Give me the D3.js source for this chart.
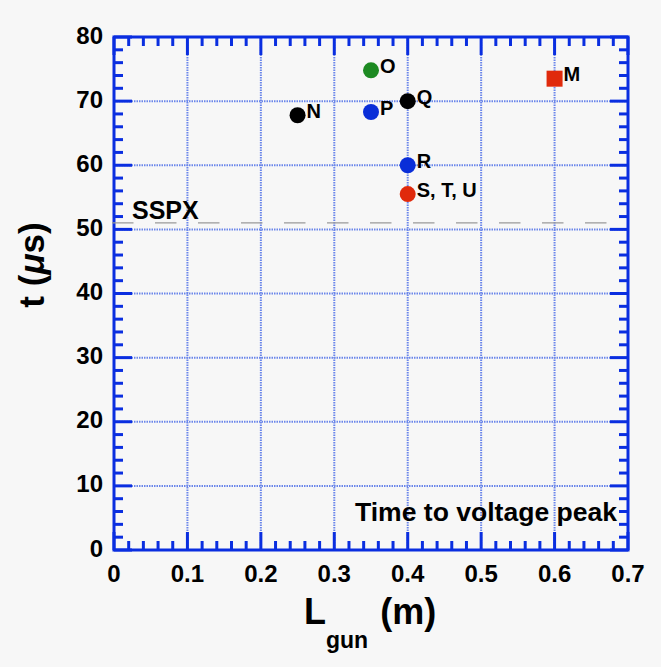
<!DOCTYPE html>
<html>
<head>
<meta charset="utf-8">
<script src="https://cdn.jsdelivr.net/npm/d3@7"></script>
<style>
  body { margin: 0; background: #f7f7f7; }
  svg { display: block; font-family: "Liberation Sans", Arial, sans-serif; }
</style>
</head>
<body>
<div id="chart"></div>
<script>
const labels = ["M", "N", "O", "P", "Q", "R", "S, T, U"];
const lengths = [0.6, 0.25, 0.35, 0.35, 0.4, 0.4, 0.4];
const times = [73.5, 67.8, 74.8, 68.3, 70.0, 60.0, 55.5];
const colors = ["#e02a0c", "#000000", "#1d8a22", "#0a2ed8", "#000000", "#0a2ed8", "#e02a0c"];
const shapes = ["square", "circle", "circle", "circle", "circle", "circle", "circle"];
const xTicks = [0, 0.1, 0.2, 0.3, 0.4, 0.5, 0.6, 0.7];
const yTicks = [0, 10, 20, 30, 40, 50, 60, 70, 80];
const sspxTime = 51;

const width = 661, height = 667;
const margin = { top: 37, right: 33, bottom: 117, left: 114 };
const innerW = width - margin.left - margin.right;
const innerH = height - margin.top - margin.bottom;
const axisBlue = "#0a2ee0";

const svg = d3.select("#chart").append("svg")
  .attr("width", width).attr("height", height);
svg.append("rect").attr("width", width).attr("height", height).attr("fill", "#f7f7f7");

const g = svg.append("g").attr("transform", `translate(${margin.left},${margin.top})`);

const x = d3.scaleLinear().domain([0, 0.7]).range([0, innerW]);
const y = d3.scaleLinear().domain([0, 80]).range([innerH, 0]);

// grid (dotted)
g.append("g").selectAll("line").data(xTicks.slice(1, -1)).join("line")
  .attr("x1", d => x(d)).attr("x2", d => x(d)).attr("y1", 0).attr("y2", innerH)
  .attr("stroke", "#6b86ea").attr("stroke-width", 2).attr("stroke-dasharray", "1.5,1");
g.append("g").selectAll("line").data(yTicks.slice(1, -1)).join("line")
  .attr("y1", d => y(d)).attr("y2", d => y(d)).attr("x1", 0).attr("x2", innerW)
  .attr("stroke", "#6b86ea").attr("stroke-width", 2).attr("stroke-dasharray", "1.5,1");

// minor + major ticks on all four sides (inward)
const xMinor = d3.range(0, 0.7001, 0.02).map(v => +v.toFixed(2));
const yMinor = d3.range(0, 80.001, 2);
const ticks = g.append("g").attr("stroke", axisBlue).attr("stroke-width", 3);
function isMajor(v, step) { return Math.abs(v / step - Math.round(v / step)) < 1e-6; }
xMinor.forEach(v => {
  const len = isMajor(v, 0.1) ? 18 : 9;
  ticks.append("line").attr("x1", x(v)).attr("x2", x(v)).attr("y1", innerH).attr("y2", innerH - len);
  ticks.append("line").attr("x1", x(v)).attr("x2", x(v)).attr("y1", 0).attr("y2", len);
});
yMinor.forEach(v => {
  const len = isMajor(v, 10) ? 18 : 9;
  ticks.append("line").attr("y1", y(v)).attr("y2", y(v)).attr("x1", 0).attr("x2", len);
  ticks.append("line").attr("y1", y(v)).attr("y2", y(v)).attr("x1", innerW).attr("x2", innerW - len);
});
g.append("rect").attr("width", innerW).attr("height", innerH)
  .attr("fill", "none").attr("stroke", axisBlue).attr("stroke-width", 3);

// tick labels
g.append("g").selectAll("text").data(xTicks).join("text")
  .attr("x", d => x(d)).attr("y", innerH + 32)
  .attr("text-anchor", "middle").attr("font-size", 24).attr("font-weight", "bold")
  .text(d => d === 0 ? "0" : d3.format(".1f")(d));
g.append("g").selectAll("text").data(yTicks).join("text")
  .attr("x", -11).attr("y", d => y(d) + 6.5)
  .attr("text-anchor", "end").attr("font-size", 24).attr("font-weight", "bold")
  .text(d => d);

// SSPX reference
g.append("line").attr("x1", -2).attr("x2", innerW)
  .attr("y1", y(sspxTime)).attr("y2", y(sspxTime))
  .attr("stroke", "#9a9a9a").attr("stroke-width", 1.3).attr("stroke-dasharray", "21.5,21.5");
g.append("text").attr("x", 18).attr("y", y(sspxTime) - 4)
  .attr("font-size", 25).attr("font-weight", "bold").text("SSPX");

// points
const pts = labels.map((l, i) => ({ label: l, x: lengths[i], y: times[i], color: colors[i], shape: shapes[i] }));
const marks = g.append("g");
marks.selectAll("circle").data(pts.filter(d => d.shape === "circle")).join("circle")
  .attr("cx", d => x(d.x)).attr("cy", d => y(d.y)).attr("r", 8).attr("fill", d => d.color);
marks.selectAll("rect").data(pts.filter(d => d.shape === "square")).join("rect")
  .attr("x", d => x(d.x) - 8).attr("y", d => y(d.y) - 8).attr("width", 16).attr("height", 16)
  .attr("fill", d => d.color);
marks.selectAll("text").data(pts).join("text")
  .attr("x", d => x(d.x) + 9).attr("y", d => y(d.y) + 2.5)
  .attr("font-size", 20).attr("font-weight", "bold").text(d => d.label);

g.append("text").attr("x", innerW - 11).attr("y", innerH - 29)
  .attr("text-anchor", "end").attr("font-size", 25).attr("font-weight", "bold")
  .attr("textLength", 262).attr("lengthAdjust", "spacingAndGlyphs")
  .text("Time to voltage peak");

// axis titles
const xt = svg.append("text").attr("x", 304).attr("y", 624)
  .attr("font-weight", "bold").attr("font-size", 36);
xt.append("tspan").text("L");
xt.append("tspan").attr("font-size", 23).attr("dy", 24).text("gun");
xt.append("tspan").attr("dy", -24).attr("dx", 12).text("(m)");

const yt = svg.append("text")
  .attr("transform", "translate(44,265) rotate(-90)")
  .attr("text-anchor", "middle").attr("font-weight", "bold").attr("font-size", 35);
yt.append("tspan").text("t (");
yt.append("tspan").attr("font-style", "italic").text("\u03bc");
yt.append("tspan").text("s)");
</script>
</body>
</html>
